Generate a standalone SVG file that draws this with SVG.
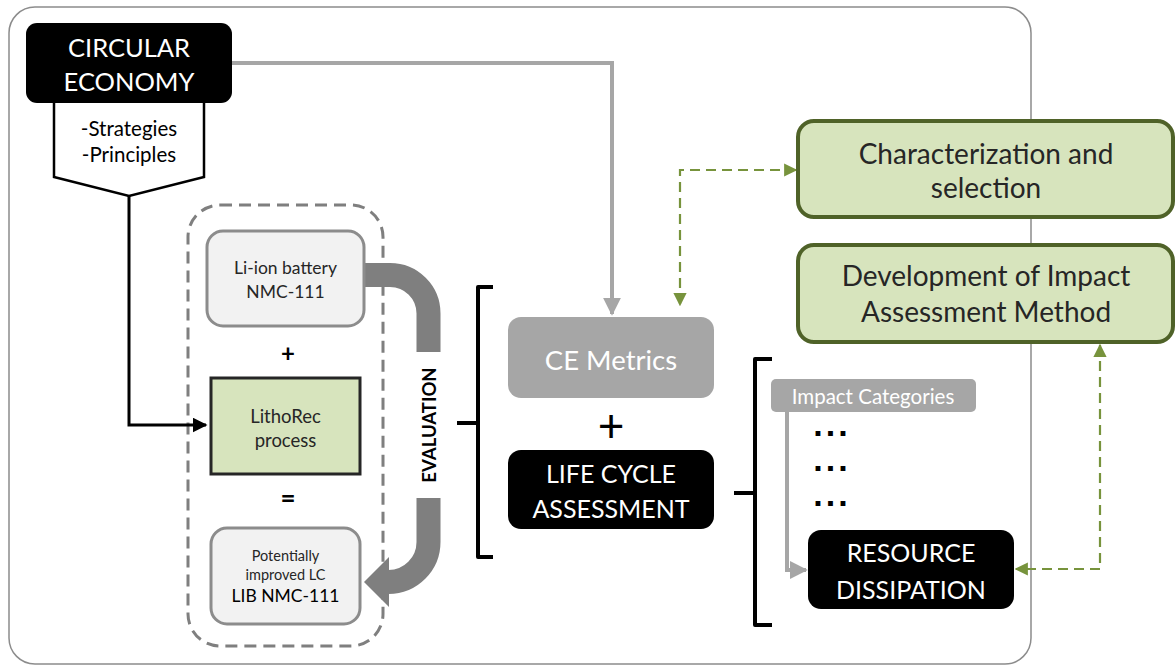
<svg xmlns="http://www.w3.org/2000/svg" width="1175" height="666" viewBox="0 0 1175 666">
<defs>
<style>
text{font-family:Lato,"Open Sans","Liberation Sans",sans-serif;text-anchor:middle;dominant-baseline:central}
.w{fill:#fff}
.d{fill:#262626}
.blk{fill:#000}
.gray{fill:#a6a6a6}
.lite{fill:#f2f2f2;stroke:#8c8c8c;stroke-width:3}
.grn{fill:#d7e4bd;stroke:#4f6228;stroke-width:4}
.gline{fill:none;stroke:#a6a6a6;stroke-width:4}
.gd{fill:none;stroke:#77933c;stroke-width:2.2;stroke-dasharray:10 6}
.br{fill:none;stroke:#000;stroke-width:4;stroke-linejoin:round}
.dots{font-family:"Liberation Sans",sans-serif;font-weight:bold;font-size:34px;letter-spacing:3px;dominant-baseline:auto;fill:#000}
</style>
<marker id="ga" viewBox="0 0 10 10" refX="9" refY="5" markerWidth="4.5" markerHeight="4.5" orient="auto-start-reverse" markerUnits="strokeWidth"><path d="M0,0 L10,5 L0,10 z" fill="#a6a6a6"/></marker>
<marker id="gr" viewBox="0 0 10 10" refX="9" refY="5" markerWidth="6" markerHeight="6" orient="auto-start-reverse" markerUnits="strokeWidth"><path d="M0,0 L10,5 L0,10 z" fill="#77933c"/></marker>
<marker id="ba" viewBox="0 0 10 10" refX="9" refY="5" markerWidth="5" markerHeight="5" orient="auto" markerUnits="strokeWidth"><path d="M0,0 L10,5 L0,10 z" fill="#000"/></marker>
</defs>
<rect id="frame" x="9" y="7" width="1022" height="657" rx="26" fill="none" stroke="#8c8c8c" stroke-width="1.5"/>
<rect id="scope" x="188" y="205" width="195" height="441" rx="32" fill="none" stroke="#7f7f7f" stroke-width="3" stroke-dasharray="12 7"/>
<g id="connectors">
<path class="gline" d="M232,63 H612 V314" marker-end="url(#ga)"/>
<path d="M129,196 V425 H206" fill="none" stroke="#000" stroke-width="3" marker-end="url(#ba)"/>
<path class="gd" d="M796,170 H680 V305" marker-start="url(#gr)" marker-end="url(#gr)"/>
<path class="gd" d="M1100,345 V569 H1016" marker-start="url(#gr)" marker-end="url(#gr)"/>
<path class="gline" d="M787,412 V570 H806" marker-end="url(#ga)"/>
<path d="M364,275 H390 A38.5,38.5 0 0 1 428.5,313.5 V352" fill="none" stroke="#7f7f7f" stroke-width="24"/>
<path d="M428.5,498 V542 A40,40 0 0 1 388.5,582" fill="none" stroke="#7f7f7f" stroke-width="24"/>
<path d="M364,582 L389,557 L389,607 z" fill="#7f7f7f"/>
<path class="br" d="M493,287 H478 V557 H493 M478,423 H457"/>
<path class="br" d="M772,359 H755 V625 H772 M755,493 H734"/>
</g>
<g id="circular-economy">
<path d="M54,103 V177 L129,196 L204,177 V103" fill="#fff" stroke="#000" stroke-width="2.5"/>
<rect x="26" y="23" width="206" height="80" rx="11" class="blk"/>
<text x="129" y="47" font-size="25.5" class="w">CIRCULAR</text>
<text x="129" y="81" font-size="25.5" class="w">ECONOMY</text>
<text x="129" y="128" font-size="20.5" class="blk">-Strategies</text>
<text x="129" y="154" font-size="20.5" class="blk">-Principles</text>
</g>
<g id="li-ion">
<rect x="207" y="231" width="157" height="95" rx="16" class="lite"/>
<text x="285.5" y="267" font-size="17.5" class="d">Li-ion battery</text>
<text x="285.5" y="291" font-size="17.5" class="d">NMC-111</text>
</g>
<text x="288" y="352" font-size="24" font-weight="bold" class="blk">+</text>
<g id="lithorec">
<rect x="211" y="378" width="149" height="96" fill="#d7e4bd" stroke="#262626" stroke-width="3"/>
<text x="285.5" y="416" font-size="18.5" class="d">LithoRec</text>
<text x="285.5" y="440" font-size="18.5" class="d">process</text>
</g>
<text x="288" y="497" font-size="26" font-weight="bold" class="blk">=</text>
<g id="improved">
<rect x="211" y="528" width="149" height="96" rx="16" class="lite"/>
<text x="285.5" y="555" font-size="14.5" class="d">Potentially</text>
<text x="285.5" y="574" font-size="14.5" class="d">improved LC</text>
<text x="285.5" y="595" font-size="17.5" class="blk">LIB NMC-111</text>
</g>
<text x="428.5" y="425" font-size="18.5" font-weight="bold" font-family="Liberation Sans" class="blk" transform="rotate(-90 428.5 425)">EVALUATION</text>
<g id="ce-metrics">
<rect x="508" y="317" width="206" height="81" rx="13" class="gray"/>
<text x="611" y="359" font-size="27.5" class="w">CE Metrics</text>
</g>
<text x="611" y="424" font-size="46" class="blk">+</text>
<g id="lca">
<rect x="508" y="450" width="206" height="79" rx="13" class="blk"/>
<text x="611" y="473" font-size="25" class="w">LIFE CYCLE</text>
<text x="611" y="508" font-size="25" class="w">ASSESSMENT</text>
</g>
<g id="characterization">
<rect x="798" y="121" width="375" height="96" rx="16" class="grn"/>
<text x="986" y="153" font-size="28" class="d">Characterization and</text>
<text x="986" y="187" font-size="28" class="d">selection</text>
</g>
<g id="development">
<rect x="798" y="245" width="375" height="97" rx="16" class="grn"/>
<text x="986" y="275" font-size="28" class="d">Development of Impact</text>
<text x="986" y="311" font-size="28" class="d">Assessment Method</text>
</g>
<g id="impact-categories">
<rect x="771" y="379" width="205" height="33" rx="5" class="gray"/>
<text x="873" y="396" font-size="20.5" class="w">Impact Categories</text>
</g>
<text x="832" y="436" class="dots">...</text>
<text x="832" y="471" class="dots">...</text>
<text x="832" y="506" class="dots">...</text>
<g id="resource-dissipation">
<rect x="808" y="530" width="206" height="79" rx="13" class="blk"/>
<text x="911" y="552" font-size="25" class="w">RESOURCE</text>
<text x="911" y="589" font-size="25" class="w">DISSIPATION</text>
</g>
</svg>
